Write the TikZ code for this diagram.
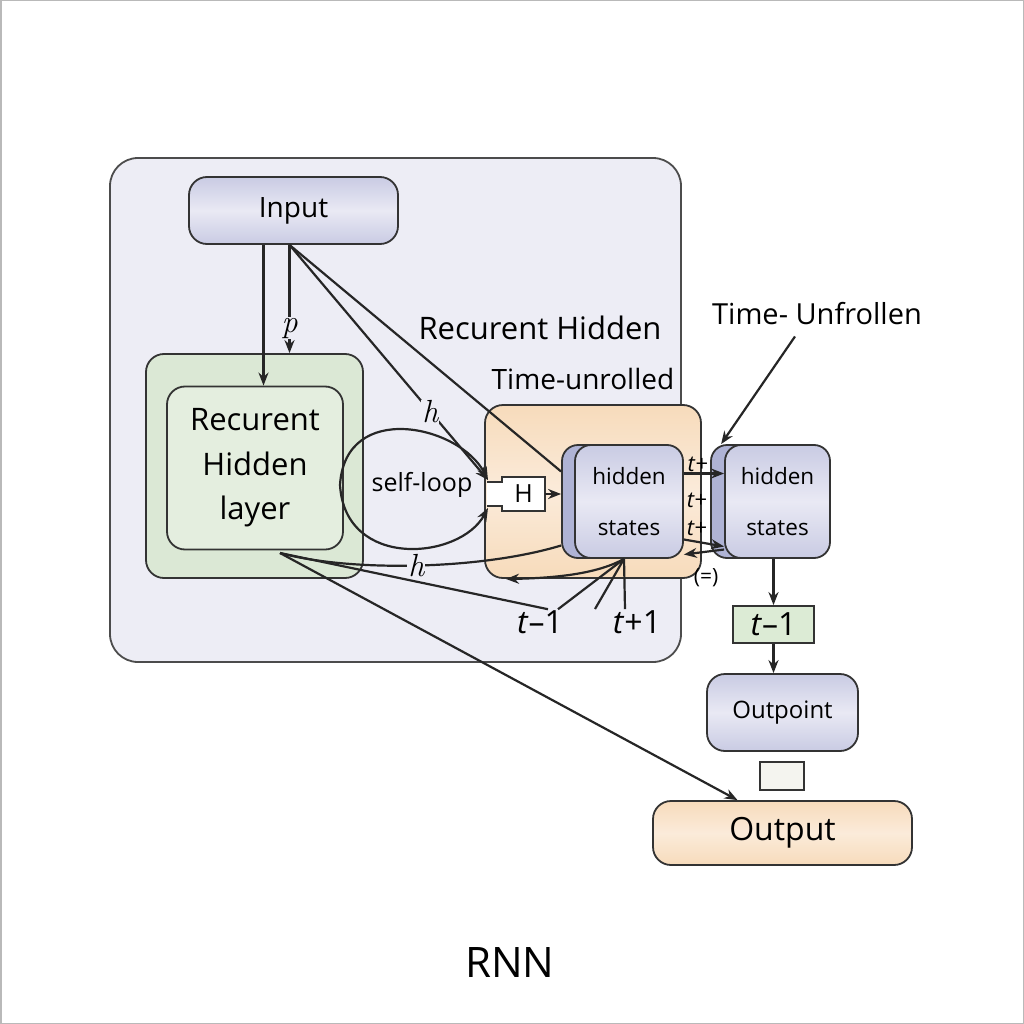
\documentclass[tikz,border=0pt]{standalone}
\usepackage{fontspec}
\setmainfont{Open Sans}
\newfontfamily\lmfont{Latin Modern Roman}
\usepackage{tikz}
\usetikzlibrary{arrows.meta,positioning,calc}

\definecolor{panelbg}{HTML}{EDEDF5}
\definecolor{lav}{HTML}{D9DAED}
\definecolor{lavedge}{HTML}{C9CBE3}
\definecolor{lavmid}{HTML}{E9E9F4}
\definecolor{lavdk}{HTML}{AFB3D5}
\definecolor{grnout}{HTML}{DBE8D5}
\definecolor{grnin}{HTML}{E4EEDF}
\definecolor{orng}{HTML}{F7DBBB}
\definecolor{orngmid}{HTML}{FBEBDA}
\definecolor{grntag}{HTML}{DCEBD5}
\definecolor{gapfill}{HTML}{F4F4EF}

\begin{document}
\begin{tikzpicture}[
  x=1pt, y=-1pt,
  >={Stealth[length=13pt,width=10pt]},
  block/.style={
    draw=black!80,
    fill=#1,
    rounded corners=18pt,
    line width=1.8pt,
    inner sep=0pt
  },
  block/.default=lav,
  lavglow/.style={top color=lavedge, bottom color=lavedge, middle color=lavmid},
  orngglow/.style={top color=orng, bottom color=orng, middle color=orngmid},
  txt/.style={font=\fontsize{#1}{#1}\selectfont, inner sep=1pt},
  txt/.default=26,
  tag/.style={fill=panelbg, inner sep=1pt, font=\lmfont\itshape\fontsize{32}{34}\selectfont},
  arr/.style={->, line width=2.2pt, draw=black!85},
  ln/.style={line width=2.2pt, draw=black!85}
]
\useasboundingbox (0,0) rectangle (1024,1024);
\draw[gray!55, line width=1.5pt] (0.75,0.75) rectangle (1023.25,1023.25);

% ===== Folded part =====
\node[block=panelbg, rounded corners=28pt, draw=black!70, minimum width=571pt, minimum height=504pt] (panel) at (395.5,410) {};
\node[block, lavglow, minimum width=209pt, minimum height=67pt, txt=28] (input) at (293.5,210.5) {Input};
\node[block=grnout, minimum width=217pt, minimum height=224pt] (rhl) at (254.5,466) {};
\node[block=grnin, minimum width=176pt, minimum height=163pt, align=center,
      font=\fontsize{31}{44.5}\selectfont] (rhlin) at (255,468) {Recurent\\Hidden\\layer};

\node[txt=31] (rhtitle) at (540,328) {Recurent Hidden};
\node[txt=28] (tutitle) at (583,379) {Time-unrolled};

% ===== Unrolled states =====
\node[block=orng, orngglow, minimum width=216pt, minimum height=173pt] (unroll) at (593,491.5) {};
\node[block=lavdk, rounded corners=16pt, minimum width=106pt, minimum height=113pt] (hsaback) at (615,501.5) {};
\node[block, lavglow, rounded corners=16pt, minimum width=108pt, minimum height=113pt, align=center,
      font=\fontsize{22.5}{51}\selectfont] (hsa) at (629,501.5) {hidden\\states};
\node[block=lavdk, rounded corners=16pt, minimum width=104pt, minimum height=113pt] (hsbback) at (763,501.5) {};
\node[block, lavglow, rounded corners=16pt, minimum width=105pt, minimum height=113pt, align=center,
      font=\fontsize{22.5}{51}\selectfont] (hsb) at (777.5,501.5) {hidden\\states};

\node[txt=29] (tutext) at (817,314) {Time- Unfrollen};

% ===== Output column =====
\node[draw=black!80, fill=grntag, line width=1.8pt, minimum width=81pt, minimum height=37pt, txt=32] (tbox) at (773.5,624.5) {\textit{t}–1};
\node[block, lavglow, minimum width=151pt, minimum height=77pt, txt=24] (outpt) at (782.5,712.5) {Outpoint};
\node[draw=black!80, fill=gapfill, line width=1.4pt, minimum width=44pt, minimum height=28pt] (gap) at (782,776) {};
\node[block=orng, orngglow, minimum width=259pt, minimum height=64pt, txt=32] (output) at (782.5,833) {Output};

\node[txt=42] (title) at (510,962) {RNN};

% ===== Self-loop gate =====
\node[txt=25] (selfloop) at (422,485) {self-loop};
\draw[line width=1.6pt, draw=black!80, fill=white] (487,482) -- (502,482) -- (502,477) -- (545,477)
  -- (545,511) -- (502,511) -- (502,506) -- (487,506);
\node[txt=25] (hgate) at (523.5,494) {H};
\coordinate (gtop) at (488,480);
\coordinate (gbot) at (488,508);
\coordinate (gout) at (545,494);

\draw[arr, <->] (gtop) .. controls (460,425) and (345,400) .. (340,485)
  .. controls (345,570) and (460,560) .. (gbot);
\draw[arr] (gout) -- (gout -| hsaback.west);

% ===== Input links =====
\draw[arr] ([xshift=-30pt]input.south) -- ([xshift=-30pt]input.south |- rhlin.north);
\draw[arr] ([xshift=-4pt]input.south) -- node[tag, pos=0.77] {p} ([xshift=-4pt]input.south |- rhl.north);
\draw[arr] ([xshift=-4pt]input.south) -- node[tag, pos=0.71] {h} (gtop);
\draw[ln] ([xshift=-4pt]input.south) -- ([yshift=30pt]hsaback.west);

% ===== Between unrolled steps =====
\draw[arr] ([yshift=28pt]hsa.east) -- node[pos=0.35, above=0pt, txt=22] {\textit{t}+} ([yshift=28pt]hsa.east -| hsb.west);
\node[txt=22] (tmid) at (697,500) {\textit{t}+};
\node[txt=22] (tlow) at (697,528) {\textit{t}+};
\draw[arr] ([yshift=-38pt]hsa.east) -- ([yshift=-45pt]hsb.west);
\draw[arr] ([yshift=-48pt]hsb.west) -- ([yshift=-53pt]hsa.east);
\node[txt=21] (eqsign) at (706,578) {(=)};

\draw[arr] ([shift={(-22pt,-10pt)}]tutext.south) -- ([xshift=11pt]hsbback.north west);
\draw[arr] (tbox.north |- hsb.south) -- (tbox.north);
\draw[arr] (tbox.south) -- (tbox.south |- outpt.north);

% ===== Feedback under the layer =====
\node[txt=32] (tmone) at (540,622) {\textit{t}–1};
\node[txt=32] (tpone) at (637,622) {\textit{t}+1};
\coordinate (rhlout) at (280,553);
\coordinate (hsfoot) at ([xshift=-5pt]hsa.south);
\coordinate (tfree) at (595,609);
\coordinate (backtip) at (506,579);

\draw[ln] (rhlout) .. controls (350,572) and (480,570) .. node[tag, pos=0.5] {h} ([yshift=-44pt]hsaback.west);
\draw[ln] (rhlout) -- ([xshift=8pt]tmone.north);
\draw[arr] (rhlout) -- ([xshift=-45pt]output.north);
\draw[ln] ([xshift=18pt]tmone.north) -- (hsfoot);
\draw[ln] (tfree) -- (hsfoot);
\draw[ln] ([xshift=-12pt]tpone.north) -- (hsfoot);
\draw[arr] (hsfoot) .. controls ($(hsfoot)+(-25,14)$) and (560,578) .. (backtip);

\end{tikzpicture}
\end{document}
